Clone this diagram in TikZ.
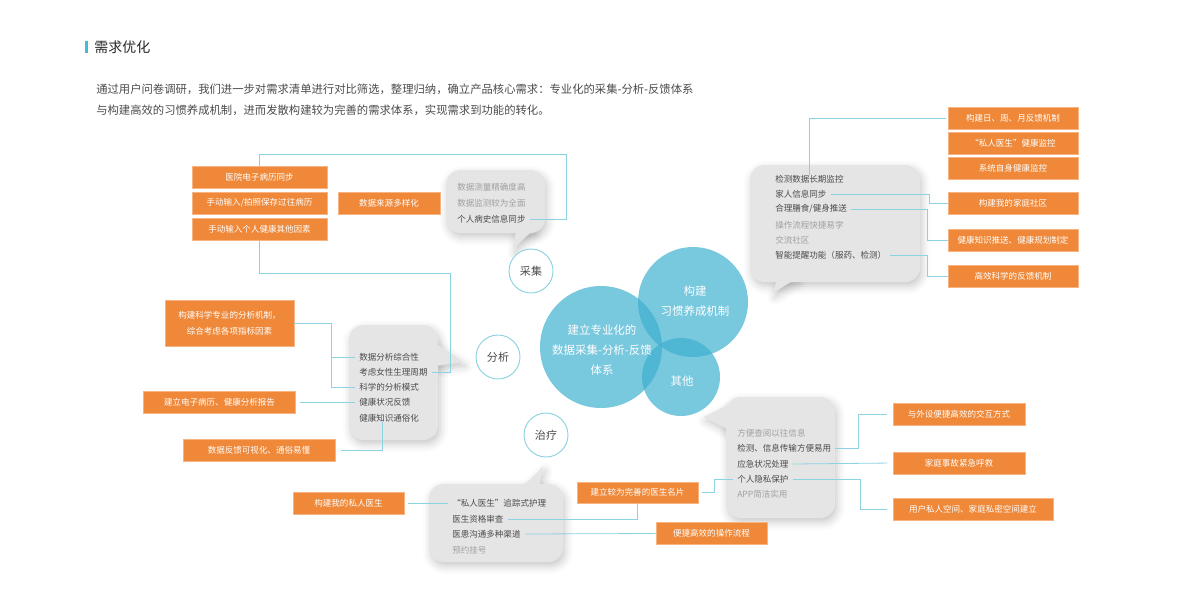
\documentclass[tikz,border=0pt]{standalone}
\usepackage{fontspec}
\setmainfont{Noto Sans CJK SC}
\usetikzlibrary{shadows.blur}

\definecolor{orbox}{RGB}{239,136,56}
\definecolor{orline}{RGB}{247,180,130}
\definecolor{linkc}{RGB}{140,210,225}
\definecolor{balc}{RGB}{229,229,229}
\definecolor{txtd}{RGB}{75,75,75}
\definecolor{txtl}{RGB}{160,160,160}
\definecolor{bubc}{RGB}{62,176,208}
\definecolor{titlec}{RGB}{64,188,215}

\tikzset{
  obox/.style={fill=orbox, draw=orline, line width=0.5pt, text=white,
    font=\fontsize{6.4}{12}\selectfont, minimum height=16.5pt, inner sep=0pt, align=center},
  btxt/.style={anchor=west, inner xsep=3pt, inner ysep=0pt, text=txtd,
    font=\fontsize{6.4}{8}\selectfont},
  btxtl/.style={btxt, text=txtl},
  link/.style={draw=linkc, line width=0.6pt},
  ring/.style={circle, draw=linkc, line width=0.7pt, fill=white, minimum size=33pt,
    inner sep=0pt, text=txtd, font=\fontsize{8.3}{10}\selectfont},
  bubble/.style={circle, fill=bubc, fill opacity=0.7, inner sep=0pt},
  bubtxt/.style={text=white, align=center, font=\fontsize{8.6}{15}\selectfont},
  bshadow/.style={blur shadow={shadow xshift=1.5pt, shadow yshift=-3pt,
    shadow blur radius=6pt, shadow opacity=22}},
}

% #1,#2: corners of the box, #3: the tail
\newcommand{\tipbox}[3]{%
  \fill[balc, bshadow] #3 -- cycle;
  \fill[balc, bshadow, rounded corners=11pt] #1 rectangle #2;
  \fill[balc] #3 -- cycle;}

\begin{document}
\begin{tikzpicture}[x=0.75pt, y=-0.75pt]
  \useasboundingbox (0,0) rectangle (1188,600);

  % 标题
  \fill[titlec] (85,41) rectangle (88,53);
  \node[anchor=west, inner sep=0pt, text={rgb,255:red,40;green,40;blue,40},
    font=\fontsize{10.5}{12}\selectfont] (title) at (94,47) {需求优化};
  \node[anchor=west, inner sep=0pt, text=txtd, font=\fontsize{8.5}{10}\selectfont] (desc1) at (96,89)
    {通过用户问卷调研，我们进一步对需求清单进行对比筛选，整理归纳，确立产品核心需求：专业化的采集-分析-反馈体系};
  \node[anchor=west, inner sep=0pt, text=txtd, font=\fontsize{8.5}{10}\selectfont] (desc2) at (96,110)
    {与构建高效的习惯养成机制，进而发散构建较为完善的需求体系，实现需求到功能的转化。};

  % 气泡
  \tipbox{(446,170)}{(545,233)}{(516,230) -- (513,249) -- (533,230)}
  \tipbox{(349,325)}{(438,440)}{(435,343) -- (463,362) -- (435,366)}
  \tipbox{(429,484)}{(563,562)}{(522,488) -- (543,467) -- (539,488)}
  \tipbox{(726,397)}{(835,518)}{(729,405) -- (704,417) -- (729,430)}
  \tipbox{(750,165)}{(920,282)}{(777,278) -- (773,293) -- (797,278)}

  % 中心圆
  \node[bubble, minimum size=91.5pt] (core) at (601,347) {};
  \node[bubble, minimum size=82.5pt] (habit) at (693,302) {};
  \node[bubble, minimum size=58.5pt] (other) at (681,377) {};
  \node[bubtxt] (coretxt) at (602,350) {建立专业化的\\数据采集-分析-反馈\\体系};
  \node[bubtxt] (habittxt) at (695,301) {构建\\习惯养成机制};
  \node[bubtxt] (othertxt) at (682,381) {其他};

  \node[ring] (cj) at (531,271) {采集};
  \node[ring] (fx) at (498,357) {分析};
  \node[ring] (zl) at (546,435) {治疗};

  % 采集
  \node[obox, minimum width=101.25pt] (s1) at (259.5,177) {医院电子病历同步};
  \node[obox, minimum width=101.25pt] (s2) at (259.5,203) {手动输入/拍照保存过往病历};
  \node[obox, minimum width=101.25pt] (s3) at (259.5,229) {手动输入个人健康其他因素};
  \node[obox, minimum width=76.5pt] (s4) at (389,203) {数据来源多样化};
  \node[btxtl] (cj1) at (453,187) {数据测量精确度高};
  \node[btxtl] (cj2) at (453,203) {数据监测较为全面};
  \node[btxt] (cj3) at (453,219) {个人病史信息同步};
  \draw[link] (cj3.east) -| (566,154) -| (s1.north);

  % 分析
  \node[obox, minimum width=96.75pt, minimum height=34.5pt] (a1) at (229.5,323)
    {构建科学专业的分析机制，\\综合考虑各项指标因素};
  \node[obox, minimum width=114pt] (a2) at (219.5,402) {建立电子病历、健康分析报告};
  \node[obox, minimum width=114pt] (a3) at (259,450.5) {数据反馈可视化、通俗易懂};
  \node[btxt] (an1) at (355,357) {数据分析综合性};
  \node[btxt] (an2) at (355,372) {考虑女性生理周期};
  \node[btxt] (an3) at (355,387) {科学的分析模式};
  \node[btxt] (an4) at (355,402) {健康状况反馈};
  \node[btxt] (an5) at (355,418) {健康知识通俗化};
  \draw[link] (s3.south) |- (450,273) |- (an2.east);
  \draw[link] (a1.east) -| ([xshift=-18pt]an3.west) -- (an3.west);
  \draw[link] ([xshift=-18pt]an1.west) -- (an1.west);
  \draw[link, shorten <=3pt] (a2.east) -- (an4.west);
  \draw[link, shorten <=4pt] (a3.east) -| ([xshift=-5pt]an5.south);

  % 治疗
  \node[obox, minimum width=83.25pt] (t1) at (348.5,503) {构建我的私人医生};
  \node[obox, minimum width=90.75pt, minimum height=15.75pt] (t2) at (637.5,492.5) {建立较为完善的医生名片};
  \node[obox, minimum width=83.25pt] (t3) at (711.5,533.5) {便捷高效的操作流程};
  \node[btxt] (tr1) at (448,503) {“私人医生”追踪式护理};
  \node[btxt] (tr2) at (448,519) {医生资格审查};
  \node[btxt] (tr3) at (448,534) {医患沟通多种渠道};
  \node[btxtl] (tr4) at (448,550) {预约挂号};
  \draw[link, shorten <=3pt] (t1.east) -- (tr1.west);
  \draw[link] (tr2.east) -| (t2.south);
  \draw[link] (tr3.east) -- (t3.west);

  % 其他
  \node[obox, minimum width=99pt] (o1) at (959,414) {与外设便捷高效的交互方式};
  \node[obox, minimum width=99pt] (o2) at (959,463) {家庭事故紧急呼救};
  \node[obox, minimum width=120pt] (o3) at (973,509.5) {用户私人空间、家庭私密空间建立};
  \node[btxtl] (ot1) at (733,433) {方便查阅以往信息};
  \node[btxt] (ot2) at (733,448) {检测、信息传输方便易用};
  \node[btxt] (ot3) at (733,464) {应急状况处理};
  \node[btxt] (ot4) at (733,479) {个人隐私保护};
  \node[btxtl] (ot5) at (733,494) {APP简洁实用};
  \draw[link, shorten <=3pt] (t2.east) -- ++(16,0) |- (ot4.west);
  \draw[link, shorten >=4pt] (ot2.east) -| ([xshift=-25.5pt]o1.west) -- (o1.west);
  \draw[link, shorten >=4pt] (ot3.east) -- (o2.west);
  \draw[link, shorten >=4pt] (ot4.east) -| ([xshift=-24pt]o3.west) -- (o3.west);

  % 习惯养成
  \node[obox, minimum width=97.5pt] (h1) at (1013,118) {构建日、周、月反馈机制};
  \node[obox, minimum width=97.5pt] (h2) at (1013,143) {“私人医生”健康监控};
  \node[obox, minimum width=97.5pt] (h3) at (1013,168) {系统自身健康监控};
  \node[obox, minimum width=97.5pt] (h4) at (1013,203) {构建我的家庭社区};
  \node[obox, minimum width=97.5pt] (h5) at (1013,240) {健康知识推送、健康规划制定};
  \node[obox, minimum width=97.5pt] (h6) at (1013,276) {高效科学的反馈机制};
  \node[btxt] (hb1) at (771,179) {检测数据长期监控};
  \node[btxt] (hb2) at (771,194) {家人信息同步};
  \node[btxt] (hb3) at (771,209) {合理膳食/健身推送};
  \node[btxtl] (hb4) at (771,225) {操作流程快捷易学};
  \node[btxtl] (hb5) at (771,240) {交流社区};
  \node[btxt] (hb6) at (771,255) {智能提醒功能（服药、检测）};
  \draw[link, shorten >=1pt] (hb1.north) |- (h1.west);
  \draw[link] (hb2.east) -| ([xshift=-14pt]h4.west) -- (h4.west);
  \draw[link] (hb3.east) -| ([xshift=-15pt]h5.west) -- (h5.west);
  \draw[link] (hb6.east) -| ([xshift=-15pt]h6.west) -- (h6.west);
\end{tikzpicture}
\end{document}
